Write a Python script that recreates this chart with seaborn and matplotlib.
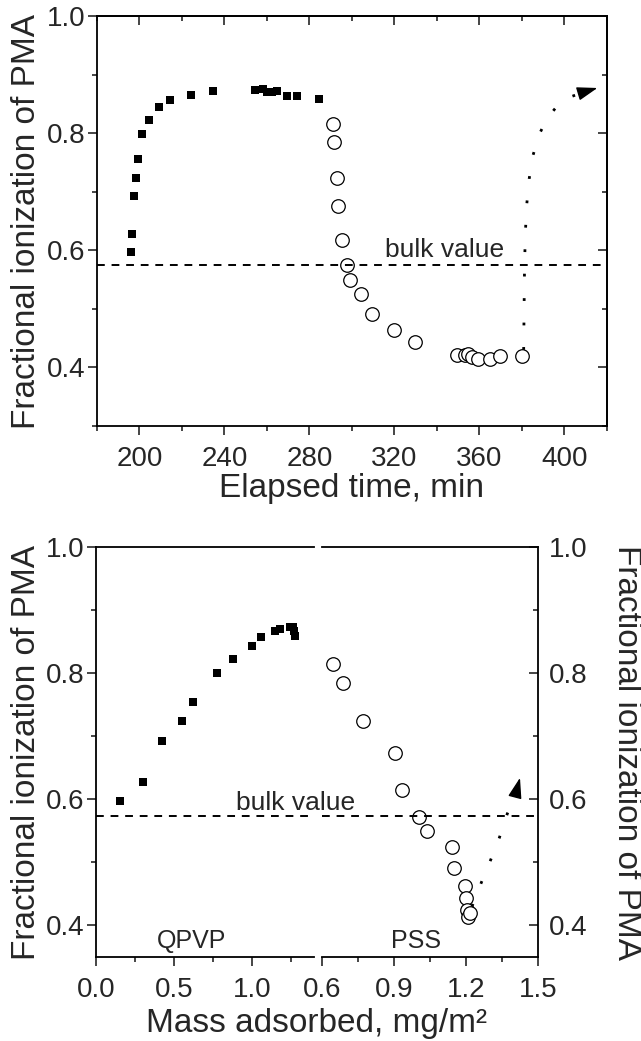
import numpy as np
import pandas as pd
import seaborn as sns
import matplotlib.pyplot as plt
from matplotlib.ticker import MultipleLocator, NullFormatter

# top panel: fractional ionization vs elapsed time
time_qpvp = [196.0, 196.5, 197.6, 198.5, 199.3, 201.3, 204.5, 209.3, 214.4, 224.4,
             234.4, 254.4, 258.0, 259.9, 262.2, 264.6, 269.3, 274.3, 284.3]
frac_qpvp_t = [0.597, 0.627, 0.693, 0.724, 0.755, 0.799, 0.822, 0.844, 0.857, 0.865,
               0.871, 0.873, 0.875, 0.870, 0.870, 0.871, 0.863, 0.863, 0.858]
time_pss = [291.2, 291.5, 292.8, 293.6, 295.1, 297.5, 299.2, 304.2, 309.6, 319.6,
            329.8, 349.5, 353.4, 354.7, 356.3, 359.2, 365.0, 369.8, 379.9]
frac_pss_t = [0.816, 0.784, 0.723, 0.675, 0.617, 0.574, 0.549, 0.526, 0.491, 0.463,
              0.443, 0.421, 0.421, 0.423, 0.417, 0.414, 0.414, 0.420, 0.420]
trend_t_x = [380.8, 381.0, 381.2, 381.6, 382.3, 383.4, 385.2, 388.0, 392.0, 397.0, 403.0, 409.0]
trend_t_y = [0.430, 0.500, 0.570, 0.630, 0.680, 0.722, 0.762, 0.797, 0.826, 0.848, 0.862, 0.870]
arrow_t = (415.5, 0.877)

# bottom panel: fractional ionization vs mass adsorbed
mass_qpvp = [0.154, 0.299, 0.421, 0.553, 0.620, 0.778, 0.878, 1.002, 1.062, 1.150,
             1.179, 1.244, 1.265, 1.269, 1.276]
frac_qpvp_m = [0.597, 0.627, 0.693, 0.724, 0.754, 0.800, 0.822, 0.843, 0.857, 0.866,
               0.870, 0.873, 0.873, 0.866, 0.859]
mass_pss = [0.647, 0.689, 0.770, 0.904, 0.935, 1.003, 1.037, 1.140, 1.148, 1.195,
            1.198, 1.203, 1.207, 1.215]
frac_pss_m = [0.815, 0.784, 0.724, 0.674, 0.615, 0.572, 0.549, 0.524, 0.491, 0.462,
              0.443, 0.424, 0.413, 0.419]
trend_m_x = [1.225, 1.265, 1.304, 1.339, 1.372, 1.405]
trend_m_y = [0.430, 0.469, 0.505, 0.539, 0.577, 0.605]
arrow_m = (1.425, 0.634)

bulk = 0.574
ylabel = 'Fractional ionization of PMA'

sns.set_theme(style='ticks')
plt.rcParams['font.family'] = ['Liberation Sans', 'DejaVu Sans']
plt.rcParams.update({
    'axes.linewidth': 1.3,
    'xtick.major.size': 6.5, 'ytick.major.size': 6.5,
    'xtick.minor.size': 3.5, 'ytick.minor.size': 3.5,
    'xtick.major.width': 1.2, 'ytick.major.width': 1.2,
    'xtick.minor.width': 1.2, 'ytick.minor.width': 1.2,
    'xtick.labelsize': 20, 'ytick.labelsize': 20,
    'axes.edgecolor': 'black',
})

fig = plt.figure(figsize=(6.41, 10.41), dpi=100)


def draw_trend(ax, xs, ys, tip):
    ax.plot(xs, ys, color='black', lw=2.0, dashes=(1, 7.8), dash_capstyle='butt')
    ax.annotate('', xy=tip, xytext=(xs[-1], ys[-1]),
                arrowprops=dict(arrowstyle='-|>,head_length=0.9,head_width=0.3',
                                color='black', lw=1.0, mutation_scale=14,
                                shrinkA=0, shrinkB=0))


# ---- top panel ----
ax = fig.add_axes([0.1513, 0.5908, 0.7956, 0.3939])
sns.scatterplot(x=time_qpvp, y=frac_qpvp_t, ax=ax, marker='s', s=30,
                color='black', edgecolor='black', linewidth=0)
sns.scatterplot(x=time_pss, y=frac_pss_t, ax=ax, marker='o', s=95,
                color='white', edgecolor='black', linewidth=0.9)
ax.axhline(bulk, color='black', lw=1.4, dashes=(4, 3.5), zorder=3)
draw_trend(ax, trend_t_x, trend_t_y, arrow_t)
ax.text(343.8, 0.601, 'bulk value', ha='center', va='center', fontsize=19)

ax.set_xlim(180, 420)
ax.set_ylim(0.3, 1.0)
ax.xaxis.set_major_locator(MultipleLocator(40))
ax.xaxis.set_minor_locator(MultipleLocator(20))
ax.yaxis.set_major_locator(MultipleLocator(0.2))
ax.yaxis.set_minor_locator(MultipleLocator(0.1))
ax.tick_params(which='both', direction='out', top=False, right=False, pad=2)
ax.tick_params(axis='x', which='both', pad=8)

sec_top = ax.secondary_xaxis('top')
sec_top.xaxis.set_major_locator(MultipleLocator(40))
sec_top.xaxis.set_minor_locator(MultipleLocator(20))
sec_top.xaxis.set_major_formatter(NullFormatter())
sec_top.tick_params(which='both', direction='in')
sec_right = ax.secondary_yaxis('right')
sec_right.yaxis.set_major_locator(MultipleLocator(0.2))
sec_right.yaxis.set_minor_locator(MultipleLocator(0.1))
sec_right.yaxis.set_major_formatter(NullFormatter())
sec_right.tick_params(which='both', direction='in')
ax.set_xlabel('')
ax.set_ylabel('')

# ---- bottom panel, QPVP segment ----
axL = fig.add_axes([0.1498, 0.0807, 0.3401, 0.3939])
sns.scatterplot(x=mass_qpvp, y=frac_qpvp_m, ax=axL, marker='s', s=36,
                color='black', edgecolor='black', linewidth=0)
axL.axhline(bulk, color='black', lw=1.4, dashes=(4, 3.5), zorder=3)
axL.text(0.615, 0.375, 'QPVP', ha='center', va='center', fontsize=18)
axL.set_xlim(0, 1.4)
axL.set_ylim(0.35, 1.0)
axL.spines['right'].set_visible(False)
axL.xaxis.set_major_locator(MultipleLocator(0.5))
axL.xaxis.set_minor_locator(MultipleLocator(0.25))
axL.yaxis.set_major_locator(MultipleLocator(0.2))
axL.yaxis.set_minor_locator(MultipleLocator(0.1))
axL.tick_params(which='both', direction='out', top=False, right=False, pad=2)
axL.tick_params(axis='x', which='both', pad=8)

# ---- bottom panel, PSS segment ----
axR = fig.add_axes([0.5023, 0.0807, 0.3370, 0.3939])
axR.patch.set_alpha(0)
sns.scatterplot(x=mass_pss, y=frac_pss_m, ax=axR, marker='o', s=95,
                color='white', edgecolor='black', linewidth=0.9)
axR.axhline(bulk, color='black', lw=1.4, dashes=(4, 3.5), zorder=3)
draw_trend(axR, trend_m_x, trend_m_y, arrow_m)
axR.text(0.99, 0.375, 'PSS', ha='center', va='center', fontsize=18)
axR.set_xlim(0.6, 1.5)
axR.set_ylim(0.35, 1.0)
axR.spines['left'].set_visible(False)
axR.xaxis.set_major_locator(MultipleLocator(0.3))
axR.xaxis.set_minor_locator(MultipleLocator(0.15))
axR.yaxis.set_major_locator(MultipleLocator(0.2))
axR.yaxis.set_minor_locator(MultipleLocator(0.1))
axR.yaxis.tick_right()
axR.tick_params(axis='x', which='both', direction='out', top=False, pad=8)
axR.tick_params(axis='y', which='both', direction='in', left=False, right=True,
                labelleft=False, labelright=True, pad=8)
for a in (axL, axR):
    a.set_xlabel('')
    a.set_ylabel('')

# bulk label sits across the break, so put it on the figure layer
axL.text(1.28, 0.594, 'bulk value', ha='center', va='center', fontsize=19,
         zorder=10, clip_on=False)
axL.set_zorder(axR.get_zorder() + 1)
axL.patch.set_alpha(0)

# ---- axis titles ----
fig.text(0.042, 0.7877, ylabel, rotation=90, ha='center', va='center', fontsize=24)
fig.text(0.042, 0.2776, ylabel, rotation=90, ha='center', va='center', fontsize=24)
fig.text(0.978, 0.2776, ylabel, rotation=270, ha='center', va='center', fontsize=24)
fig.text(0.549, 0.531, 'Elapsed time, min', ha='center', va='center', fontsize=24)
fig.text(0.4945, 0.0165, 'Mass adsorbed, mg/m²', ha='center', va='center', fontsize=24)

fig.savefig('out.png', dpi=100)
